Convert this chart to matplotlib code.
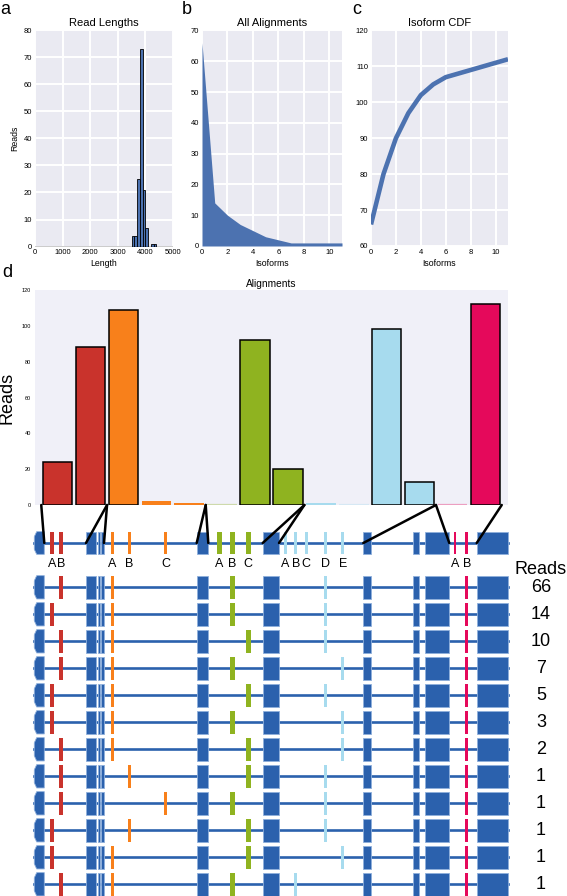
import matplotlib
matplotlib.use('Agg')
import matplotlib.pyplot as plt
from matplotlib.patches import Rectangle, Polygon, ConnectionPatch
import numpy as np

plt.rcParams['font.family'] = ['Liberation Sans', 'DejaVu Sans']

# panel a: read lengths, 100 bp bins
len_bins = [3500, 3600, 3700, 3800, 3900, 4000, 4100, 4200, 4300]
len_counts = [4, 4, 25, 73, 21, 7, 0, 1, 1]

# panel b / c: reads per isoform
iso_reads = [66, 14, 10, 7, 5, 3, 2, 1, 1, 1, 1, 1]

# panel d: reads per alternative exon
bar_reads = [24, 88, 109, 2, 1, 0, 92, 20, 1, 0, 98, 13, 0, 112]
bar_group = ['red', 'red', 'orange', 'orange', 'orange', 'green', 'green', 'green',
             'blue', 'blue', 'blue', 'blue', 'pink', 'pink']

# gene model (schematic coordinates)
exons = [(34.3, 44.3), (86, 96.3), (97.8, 99.5), (100.8, 104), (196.7, 208.3),
         (262.7, 279), (363.3, 371), (413, 419), (425, 449.3), (476.7, 508.3)]
groups = ['red', 'orange', 'green', 'blue', 'pink']
variants = {
    'red': {'A': 52.3, 'B': 61},
    'orange': {'A': 112.3, 'B': 129, 'C': 165.7},
    'green': {'A': 219.3, 'B': 232.3, 'C': 248.3},
    'blue': {'A': 285, 'B': 295.7, 'C': 306, 'D': 325, 'E': 342.7},
    'pink': {'A': 455, 'B': 466.7},
}
# chosen variant per group (red, orange, green, blue, pink) for each isoform
isoforms = ['BABDB', 'AABDB', 'BACDB', 'BABEB', 'AACDB', 'AABEB',
            'BACEB', 'BBCDB', 'BCBDB', 'ABCDB', 'AACEB', 'BABBB']

colors = {'red': '#C9332C', 'orange': '#F8801B', 'green': '#8FB320',
          'blue': '#A7DBEE', 'pink': '#E5095B'}
mark_w = {'red': 4, 'orange': 3, 'green': 4.5, 'blue': 3, 'pink': 2.7}
gene_blue = '#2B61AD'
sns_blue = '#4C72B0'

W, H = 567, 896
fig = plt.figure(figsize=(W / 100, H / 100), dpi=100)


def px_axes(l, t, r, b):
    return fig.add_axes([l / W, 1 - b / H, (r - l) / W, (b - t) / H])


def style(ax):
    ax.set_facecolor('#EAEAF2')
    ax.grid(True, color='white', lw=1.4)
    ax.set_axisbelow(True)
    for s in ax.spines.values():
        s.set_visible(False)
    ax.tick_params(length=0, labelsize=5.5, pad=2)


# a
ax_a = px_axes(35, 30.5, 173, 246.5)
style(ax_a)
ax_a.bar(len_bins, len_counts, width=100, align='edge', color=sns_blue,
         edgecolor='black', lw=0.6)
ax_a.axhline(0, color='black', lw=1)
ax_a.set_xlim(0, 5000)
ax_a.set_ylim(0, 80)
ax_a.set_xticks(range(0, 5001, 1000))
ax_a.set_yticks(range(0, 81, 10))
ax_a.set_title('Read Lengths', fontsize=8, pad=3)
ax_a.set_xlabel('Length', fontsize=6.3, labelpad=2)
ax_a.set_ylabel('Reads', fontsize=6.3, labelpad=3)

# b
x_iso = np.arange(len(iso_reads))
ax_b = px_axes(202, 30.5, 342, 246)
style(ax_b)
ax_b.fill_between(x_iso, iso_reads, color=sns_blue, lw=0)
ax_b.set_xlim(0, 11)
ax_b.set_ylim(0, 70)
ax_b.set_xticks(range(0, 11, 2))
ax_b.set_title('All Alignments', fontsize=8, pad=3)
ax_b.set_xlabel('Isoforms', fontsize=6.3, labelpad=2)

# c
ax_c = px_axes(371, 30.5, 508, 246)
style(ax_c)
ax_c.plot(x_iso, np.cumsum(iso_reads), color=sns_blue, lw=3.3, solid_capstyle='butt')
ax_c.set_xlim(0, 11)
ax_c.set_ylim(60, 120)
ax_c.set_xticks(range(0, 11, 2))
ax_c.set_title('Isoform CDF', fontsize=8, pad=3)
ax_c.set_xlabel('Isoforms', fontsize=6.3, labelpad=2)

# d
ax_d = px_axes(35, 290, 508, 505)
ax_d.set_facecolor('#F0F0F8')
for s in ax_d.spines.values():
    s.set_visible(False)
for i, v in enumerate(bar_reads):
    c = colors[bar_group[i]]
    if v > 0:
        ax_d.bar(i, v, 0.9, color=c, edgecolor='black', lw=1.1 if v > 5 else 0)
    else:
        ax_d.bar(i, v, 0.9, color=c, edgecolor=c, lw=1.6, alpha=0.35)
ax_d.set_xlim(-0.69, 13.69)
ax_d.set_ylim(0, 120)
ax_d.set_xticks([])
ax_d.set_yticks(range(0, 121, 20))
ax_d.tick_params(length=0, labelsize=4, pad=3)
ax_d.set_title('Alignments', fontsize=7.3, pad=2)
ax_d.set_ylabel('Reads', fontsize=13, labelpad=4)

# overlay in pixel coordinates for the gene model
ax_g = fig.add_axes([0, 0, 1, 1])
ax_g.set_xlim(0, W)
ax_g.set_ylim(H, 0)
ax_g.axis('off')


def draw_model(cy, h, picks):
    ax_g.plot([exons[0][0], exons[-1][1]], [cy, cy], color=gene_blue, lw=1.9, zorder=1)
    x0, x1 = exons[0]
    ax_g.add_patch(Polygon([(x0, cy - 0.28 * h), (x0 + 2.4, cy - 0.5 * h), (x1, cy - 0.5 * h),
                            (x1, cy + 0.5 * h), (x0 + 2.4, cy + 0.5 * h), (x0, cy + 0.28 * h)],
                           closed=True, fc=gene_blue, ec='#8FB0DC', lw=0.6, zorder=2))
    for x0, x1 in exons[1:]:
        ax_g.add_patch(Rectangle((x0, cy - h / 2), x1 - x0, h, fc=gene_blue,
                                 ec='#8FB0DC', lw=0.6, zorder=2))
    for g in groups:
        for name in picks[g]:
            xv = variants[g][name]
            w = mark_w[g]
            ax_g.add_patch(Rectangle((xv - w / 2, cy - h / 2), w, h, fc=colors[g],
                                     ec='none', zorder=3))


top_y = 543
draw_model(top_y, 22.7, {g: list(variants[g]) for g in groups})
for g in groups:
    for name, xv in variants[g].items():
        ax_g.text(xv, 564, name, fontsize=9, ha='center', va='center')

row_y0, row_dy = 587.3, 27
for r, iso in enumerate(isoforms):
    draw_model(row_y0 + r * row_dy, 23.3, {g: [iso[k]] for k, g in enumerate(groups)})
    ax_g.text(541, row_y0 + r * row_dy, str(iso_reads[r]), fontsize=13,
              ha='center', va='center')
ax_g.text(541, 570, 'Reads', fontsize=13, ha='center', va='center')

# connectors from bar groups to the exon edges around each variable region
for g in groups:
    idx = [i for i, bg in enumerate(bar_group) if bg == g]
    lo, hi = min(variants[g].values()), max(variants[g].values())
    left = max(e[1] for e in exons if e[1] < lo)
    right = min(e[0] for e in exons if e[0] > hi)
    for bx, gx in ((idx[0] - 0.5, left), (idx[-1] + 0.5, right)):
        con = ConnectionPatch(xyA=(bx, 0), coordsA=ax_d.transData,
                              xyB=(gx, top_y), coordsB=ax_g.transData,
                              color='black', lw=1.8, zorder=5)
        fig.add_artist(con)

# panel letters
for lbl, x, y in (('a', 0, 10), ('b', 182, 10), ('c', 352, 10), ('d', 2, 272)):
    fig.text(x / W, 1 - y / H, lbl, fontsize=13, ha='left', va='center')

fig.savefig('out.png', dpi=100)
